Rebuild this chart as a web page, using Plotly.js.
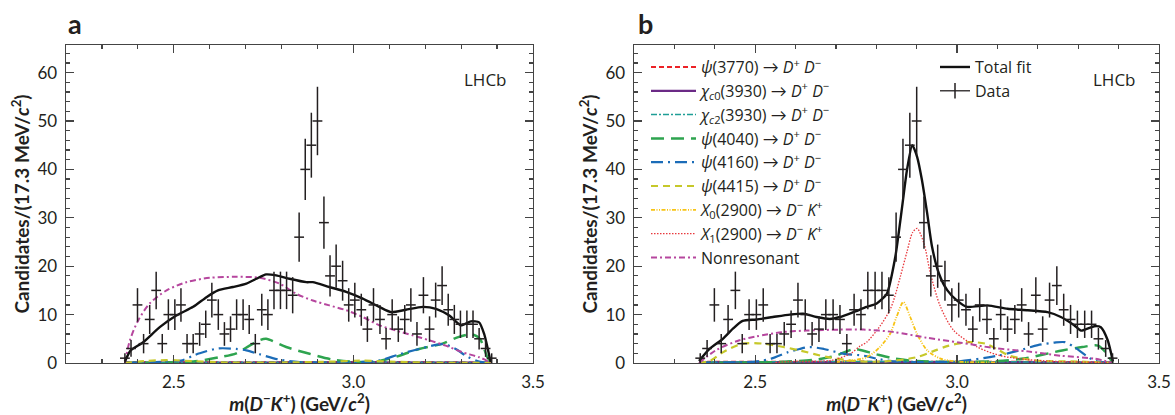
<!DOCTYPE html>
<html><head><meta charset="utf-8">
<script src="https://cdn.plot.ly/plotly-3.0.1.min.js"></script>
<style>body{margin:0;background:#fff}#plot{width:1175px;height:415px}</style>
</head><body><div id="plot"></div>
<script>
// ---------- data ----------
const massBins = [2.364,2.381,2.399,2.416,2.433,2.451,2.468,2.485,2.503,2.520,2.537,2.554,2.572,2.589,2.606,2.624,2.641,2.658,2.675,2.693,2.710,2.727,2.745,2.762,2.779,2.797,2.814,2.831,2.849,2.866,2.883,2.900,2.918,2.935,2.952,2.970,2.987,3.004,3.022,3.039,3.056,3.074,3.091,3.108,3.125,3.143,3.160,3.177,3.195,3.212,3.229,3.247,3.264,3.281,3.298,3.316,3.333,3.350,3.368,3.385];
const counts = [1,3,12,4,9,15,4,10,10,12,4,4,6,8,13,10,6,7,10,10,9,4,11,10,15,15,15,14,26,40,45,50,29,18,20,17,12,13,11,7,12,9,5,10,7,9,12,6,14,7,13,16,11,9,8,8,8,5,3,1];

// panel a fit (no X states)
const fitA_x = [2.364,2.380,2.415,2.461,2.507,2.554,2.591,2.623,2.665,2.702,2.730,2.757,2.785,2.822,2.869,2.887,2.933,2.980,3.026,3.072,3.105,3.146,3.193,3.230,3.267,3.299,3.327,3.350,3.364,3.382];
const fitA_y = [0.3,2.6,4.3,7.4,9.8,11.6,13.6,15.0,15.7,16.4,17.4,18.3,18.1,17.4,16.7,16.7,15.7,14.7,13.3,11.6,10.5,11.0,11.6,11.2,9.8,7.8,8.6,8.4,6.0,0.2];
const nrA_x = [2.364,2.378,2.401,2.433,2.480,2.535,2.600,2.674,2.739,2.794,2.841,2.887,2.933,2.980,3.026,3.072,3.119,3.165,3.211,3.257,3.304,3.350,3.385];
const nrA_y = [0,4.7,8.8,12.3,15.0,16.7,17.6,17.8,17.6,16.4,14.3,12.9,11.9,10.9,9.5,7.8,6.7,5.7,4.7,3.6,2.2,1.2,0];
const p4040A_x = [2.364,2.450,2.554,2.628,2.674,2.711,2.739,2.757,2.813,2.878,2.943,2.989,3.063,3.128,3.183,3.248,3.294,3.331,3.352,3.373,3.385];
const p4040A_y = [0,0.1,0.3,1.2,2.0,3.6,4.7,5.0,3.3,1.9,0.7,0.3,0.3,1.5,2.9,4.0,5.4,5.9,5.0,1.2,0];
const p4160A_x = [2.364,2.450,2.520,2.554,2.572,2.623,2.674,2.702,2.739,2.794,2.850,2.950,3.020,3.072,3.128,3.183,3.248,3.285,3.313,3.350,3.385];
const p4160A_y = [0,0.2,0.5,1.5,2.0,3.0,2.9,2.6,1.8,0.7,0.2,0.1,0.2,0.5,1.8,2.9,3.9,2.9,1.5,0.3,0];
const p4415A_x = [2.364,2.420,2.480,2.550,2.650,2.800,2.950,3.020,3.100,3.200,3.385];
const p4415A_y = [0,0.4,0.6,0.4,0.1,0.1,0.3,0.5,0.3,0.1,0];
const p3770A_x = [2.364,2.600,2.900,3.200,3.385];
const p3770A_y = [0.2,0.2,0.2,0.2,0.1];
const chic0A_x = [2.364,2.700,3.000,3.385];
const chic0A_y = [0.1,0.1,0.15,0.1];
const chic2A_x = [2.364,2.700,3.000,3.385];
const chic2A_y = [0.1,0.15,0.2,0.1];

// panel b fit (with X0, X1)
const fitB_x = [2.361,2.387,2.420,2.445,2.469,2.503,2.544,2.586,2.619,2.652,2.685,2.710,2.743,2.776,2.801,2.826,2.847,2.864,2.876,2.889,2.901,2.913,2.926,2.938,2.955,2.976,3.000,3.025,3.075,3.125,3.175,3.224,3.257,3.290,3.307,3.340,3.356,3.373,3.386];
const fitB_y = [0.4,2.9,5.0,7.1,8.7,9.0,9.5,10.0,10.2,9.5,9.1,9.5,10.5,11.6,12.3,14.3,21.9,32.3,39.9,45.0,42.6,37.8,30.9,24.0,18.5,15.0,12.9,11.6,11.9,11.2,10.9,10.5,9.5,7.8,6.7,7.6,7.4,4.7,0.3];
const x1B_x = [2.550,2.586,2.685,2.735,2.760,2.776,2.809,2.834,2.845,2.860,2.876,2.890,2.901,2.918,2.934,2.959,2.992,3.050,3.108,3.175,3.250,3.385];
const x1B_y = [0.1,0.3,0.5,1.9,3.5,4.3,7.6,11.0,13.5,18.0,23.0,27.0,27.8,24.7,18.5,11.6,6.7,3.3,1.5,0.7,0.3,0.1];
const x0B_x = [2.700,2.776,2.809,2.834,2.850,2.867,2.884,2.901,2.926,2.959,3.000,3.100];
const x0B_y = [0.2,1.2,3.3,6.0,9.5,12.6,9.5,6.0,2.6,0.9,0.3,0.1];
const nrB_x = [2.361,2.402,2.461,2.503,2.569,2.627,2.710,2.768,2.843,2.926,3.008,3.091,3.175,3.257,3.340,3.386];
const nrB_y = [0,2.6,4.7,5.5,6.4,6.7,6.9,6.9,6.4,5.2,4.2,3.1,2.4,1.5,0.9,0];
const p4415B_x = [2.361,2.390,2.420,2.469,2.520,2.570,2.610,2.680,2.750,2.820,2.900,2.940,2.980,3.030,3.070,3.100,3.130,3.200,3.300,3.385];
const p4415B_y = [0,0.5,2.2,4.0,4.0,3.3,2.6,1.2,0.4,0.3,1.2,2.4,3.6,4.3,4.0,2.8,1.5,0.5,0.3,0];
const p4040B_x = [2.361,2.550,2.650,2.700,2.720,2.745,2.760,2.800,2.840,2.900,3.000,3.100,3.170,3.260,3.310,3.349,3.370,3.385];
const p4040B_y = [0,0.2,0.7,1.5,2.2,2.9,2.7,1.8,1.0,0.4,0.2,0.4,1.0,2.6,3.3,3.6,2.0,0];
const p4160B_x = [2.361,2.500,2.540,2.580,2.610,2.635,2.670,2.720,2.770,2.800,2.850,2.950,3.000,3.100,3.150,3.200,3.240,3.267,3.290,3.320,3.340,3.385];
const p4160B_y = [0,0.3,0.9,2.2,2.9,3.3,2.9,1.9,1.5,0.9,0.3,0.2,0.3,1.5,2.5,3.7,4.2,4.3,3.3,1.5,0.5,0];
const p3770B_x = [2.361,2.600,2.900,3.200,3.385];
const p3770B_y = [0.25,0.3,0.3,0.25,0.1];
const chic0B_x = [2.361,2.700,3.000,3.385];
const chic0B_y = [0.15,0.2,0.2,0.1];
const chic2B_x = [2.361,2.700,3.000,3.385];
const chic2B_y = [0.2,0.3,0.3,0.1];

const compNames = [
  '<i>ψ</i>(3770) → <i>D</i><sup>+</sup> <i>D</i><sup>−</sup>',
  '<i>χ<sub>c</sub></i><sub>0</sub>(3930) → <i>D</i><sup>+</sup> <i>D</i><sup>−</sup>',
  '<i>χ<sub>c</sub></i><sub>2</sub>(3930) → <i>D</i><sup>+</sup> <i>D</i><sup>−</sup>',
  '<i>ψ</i>(4040) → <i>D</i><sup>+</sup> <i>D</i><sup>−</sup>',
  '<i>ψ</i>(4160) → <i>D</i><sup>+</sup> <i>D</i><sup>−</sup>',
  '<i>ψ</i>(4415) → <i>D</i><sup>+</sup> <i>D</i><sup>−</sup>',
  '<i>X</i><sub>0</sub>(2900) → <i>D</i><sup>−</sup> <i>K</i><sup>+</sup>',
  '<i>X</i><sub>1</sub>(2900) → <i>D</i><sup>−</sup> <i>K</i><sup>+</sup>',
  'Nonresonant'
];

// ---------- styles ----------
const FONT = 'Lato, "Open Sans", sans-serif';
const LFONT = '"Open Sans", Lato, sans-serif';
const TXT = '#231f20';
const sty = [
  {color:'#ec2227', width:1.8, dash:'5px,3px'},
  {color:'#6b2a86', width:2.2, dash:'solid'},
  {color:'#1f9e96', width:1.5, dash:'6px,2px,2px,2px'},
  {color:'#2ea44f', width:2.5, dash:'13px,7px'},
  {color:'#1b6cb8', width:2.2, dash:'12px,5px,2px,5px'},
  {color:'#c6c82a', width:2.2, dash:'7px,5px'},
  {color:'#f7c315', width:1.8, dash:'4px,1.5px,1px,1.5px,1px,1.5px'},
  {color:'#e8383d', width:1.3, dash:'1.5px,1.5px'},
  {color:'#b6469e', width:2.0, dash:'6px,3px,2px,3px'}
];

function comp(x, y, i, ax, show){
  return {x:x, y:y, type:'scatter', mode:'lines', name:compNames[i],
    line:{color:sty[i].color, width:sty[i].width, dash:sty[i].dash, shape:'spline', smoothing:0.8},
    xaxis:ax==='a'?'x':'x2', yaxis:ax==='a'?'y':'y2', showlegend:show, legend:'legend', hoverinfo:'skip'};
}
const errs = counts.map(v => Math.sqrt(v));
function dataTrace(ax){
  return {x:massBins, y:counts, type:'scatter', mode:'markers', name:'Data',
    marker:{symbol:'line-ew-open', size:7, color:'#231f20', line:{width:1.5, color:'#231f20'}},
    error_y:{type:'data', array:errs, visible:true, color:'#231f20', thickness:1.5, width:0},
    xaxis:ax==='a'?'x':'x2', yaxis:ax==='a'?'y':'y2', showlegend:false, legend:'legend2'};
}
function fitTrace(x, y, ax, show){
  return {x:x, y:y, type:'scatter', mode:'lines', name:'Total fit',
    line:{color:'#111', width:2.4, shape:'spline', smoothing:0.6},
    xaxis:ax==='a'?'x':'x2', yaxis:ax==='a'?'y':'y2', showlegend:show, legend:'legend2'};
}
// legend-only key for the data (horizontal line with a vertical tick)
const dataKey = {x:[null], y:[null], type:'scatter', mode:'lines+markers', name:'Data',
  line:{color:'#231f20', width:1.3},
  marker:{symbol:'line-ns-open', size:11, color:'#231f20', line:{width:1.5, color:'#231f20'}},
  xaxis:'x2', yaxis:'y2', showlegend:true, legend:'legend2'};

const traces = [
  comp(p3770A_x,p3770A_y,0,'a',false),
  comp(chic0A_x,chic0A_y,1,'a',false),
  comp(chic2A_x,chic2A_y,2,'a',false),
  comp(p4040A_x,p4040A_y,3,'a',false),
  comp(p4160A_x,p4160A_y,4,'a',false),
  comp(p4415A_x,p4415A_y,5,'a',false),
  comp(nrA_x,nrA_y,8,'a',false),
  fitTrace(fitA_x,fitA_y,'a',false),
  dataTrace('a'),
  comp(p3770B_x,p3770B_y,0,'b',true),
  comp(chic0B_x,chic0B_y,1,'b',true),
  comp(chic2B_x,chic2B_y,2,'b',true),
  comp(p4040B_x,p4040B_y,3,'b',true),
  comp(p4160B_x,p4160B_y,4,'b',true),
  comp(p4415B_x,p4415B_y,5,'b',true),
  comp(x0B_x,x0B_y,6,'b',true),
  comp(x1B_x,x1B_y,7,'b',true),
  comp(nrB_x,nrB_y,8,'b',true),
  fitTrace(fitB_x,fitB_y,'b',true),
  dataTrace('b'),
  dataKey
];

const xTitle = '<b><i>m</i>(<i>D</i><sup>−</sup><i>K</i><sup>+</sup>) (GeV/<i>c</i><sup>2</sup>)</b>';
const yTitle = '<b>Candidates/(17.3 MeV/<i>c</i><sup>2</sup>)</b>';

function xax(dom){
  return {domain:dom, range:[2.2,3.5], tick0:2.5, dtick:0.5, tickformat:'.1f',
    ticks:'inside', ticklen:8, tickwidth:1.3, tickcolor:'#444', mirror:'allticks',
    showline:true, linecolor:'#444', linewidth:1.4, showgrid:false, zeroline:false,
    minor:{dtick:0.1, ticklen:4, ticks:'inside', tickcolor:'#444', tickwidth:1.2, showgrid:false},
    tickfont:{family:FONT, size:17, color:TXT}, ticklabelstandoff:3,
    title:{text:xTitle, font:{family:FONT, size:19, color:TXT}, standoff:6}};
}
function yax(anchor){
  return {anchor:anchor, domain:[0,1], range:[0,65.7], dtick:10, tick0:0,
    ticks:'inside', ticklen:8, tickwidth:1.3, tickcolor:'#444', mirror:'allticks',
    showline:true, linecolor:'#444', linewidth:1.4, showgrid:false, zeroline:false,
    minor:{dtick:2, ticklen:4, ticks:'inside', tickcolor:'#444', tickwidth:1.2, showgrid:false},
    tickfont:{family:FONT, size:17, color:TXT}, ticklabelstandoff:4,
    title:{text:yTitle, font:{family:FONT, size:19, color:TXT}, standoff:3}};
}

const layout = {
  width:1175, height:415, paper_bgcolor:'#fff', plot_bgcolor:'#fff',
  margin:{l:0, r:0, t:45, b:52, autoexpand:false},
  font:{family:FONT, color:TXT},
  xaxis:Object.assign(xax([66/1175, 533/1175]), {anchor:'y'}),
  yaxis:yax('x'),
  xaxis2:Object.assign(xax([634/1175, 1159/1175]), {anchor:'y2'}),
  yaxis2:yax('x2'),
  legend:{x:646/1175, y:0.984, xanchor:'left', yanchor:'top', bgcolor:'rgba(0,0,0,0)',
    font:{family:LFONT, size:16, color:TXT}, itemwidth:45, tracegroupgap:0, traceorder:'normal'},
  legend2:{x:935/1175, y:0.984, xanchor:'left', yanchor:'top', bgcolor:'rgba(0,0,0,0)',
    font:{family:LFONT, size:16, color:TXT}, itemwidth:30, traceorder:'normal'},
  annotations:[
    {text:'<b>a</b>', xref:'paper', yref:'paper', x:66/1175, y:(363-24)/318, xanchor:'left', yanchor:'middle', showarrow:false, font:{family:FONT, size:27, color:TXT}},
    {text:'<b>b</b>', xref:'paper', yref:'paper', x:636/1175, y:(363-24)/318, xanchor:'left', yanchor:'middle', showarrow:false, font:{family:FONT, size:27, color:TXT}},
    {text:'LHCb', xref:'paper', yref:'paper', x:486/1175, y:(363-79)/318, xanchor:'center', yanchor:'middle', showarrow:false, font:{family:LFONT, size:17, color:TXT}},
    {text:'LHCb', xref:'paper', yref:'paper', x:1114/1175, y:(363-79)/318, xanchor:'center', yanchor:'middle', showarrow:false, font:{family:LFONT, size:17, color:TXT}}
  ]
};

Plotly.newPlot('plot', traces, layout, {staticPlot:true, displayModeBar:false});
</script>
</body></html>
